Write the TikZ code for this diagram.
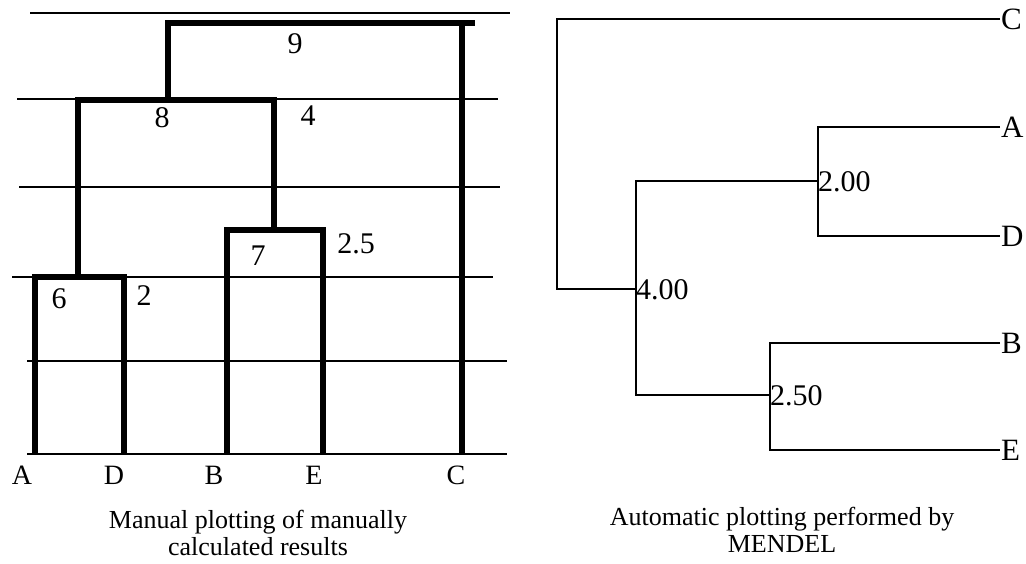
\documentclass[tikz,border=0pt]{standalone}
\usepackage{fontspec}
\setmainfont{Liberation Serif}
\usetikzlibrary{positioning}

\begin{document}
\begin{tikzpicture}[x=1pt,y=-1pt,line join=miter,
  gridline/.style={line width=1.1pt},
  heavy/.style={line width=6pt},
  slim/.style={line width=1.6pt},
  num/.style={inner sep=0pt,font=\fontsize{30}{30}\selectfont},
  leafname/.style={inner sep=0pt,font=\fontsize{28}{28}\selectfont},
  tipname/.style={anchor=west,inner sep=1pt,text height=20pt,text depth=0pt,font=\fontsize{31}{31}\selectfont},
  dist/.style={anchor=west,inner sep=0pt,text height=20pt,text depth=0pt,font=\fontsize{30}{30}\selectfont},
  caption/.style={align=center,inner sep=0pt,font=\fontsize{26}{27}\selectfont}]
  \useasboundingbox (0,0) rectangle (1026,563);
  % manual plot
  \foreach \y/\a/\b in {13/30/510,99/17/498,187/19/500,277/12/493,361/27/507,454/27/507}
    \draw[gridline] (\a,\y)--(\b,\y);
  \coordinate (lA) at (35,454);
  \coordinate (lD) at (124,454);
  \coordinate (lB) at (227,454);
  \coordinate (lE) at (323,454);
  \coordinate (lC) at (462,454);
  \coordinate (j6) at (78,277);
  \coordinate (j7) at (274,230);
  \coordinate (j8) at (168,100);
  \coordinate (j9) at (300,23);
  \draw[heavy] (lA) |- (j6) -| (lD);
  \draw[heavy] (lB) |- (j7) -| (lE);
  \draw[heavy] (j6) |- (j8) -| (j7);
  \draw[heavy] (j8) |- (j9) -| (lC);
  \draw[heavy] (lC |- j9) -- ++(13,0);
  \node[num] (n9) at (295,44) {9};
  \node[num] (n8) at (162,118) {8};
  \node[num] (n4) at (308,116) {4};
  \node[num] (n7) at (258,256) {7};
  \node[num] (n25) at (356,244) {2.5};
  \node[num] (n6) at (59,299) {6};
  \node[num] (n2) at (144,296) {2};
  \node[leafname] (tA) at (22,475) {A};
  \node[leafname] (tD) at (114,475) {D};
  \node[leafname] (tB) at (214,475) {B};
  \node[leafname] (tE) at (314,475) {E};
  \node[leafname] (tC) at (456,475) {C};
  \node[caption] (capL) at (258,533) {Manual plotting of manually\\calculated results};
  % MENDEL plot
  \node[tipname] (rC) at (1000,19) {C};
  \node[tipname] (rA) at (1000,127) {A};
  \node[tipname] (rD) at (1000,236) {D};
  \node[tipname] (rB) at (1000,343) {B};
  \node[tipname] (rE) at (1000,450) {E};
  \node[dist] (v2) at (818,181) {2.00};
  \node[dist] (v4) at (636,289) {4.00};
  \node[dist] (v25) at (770,395) {2.50};
  \coordinate (root) at (557,150);
  \draw[slim] (rA.west) -| (v2.west) |- (rD.west);
  \draw[slim] (rB.west) -| (v25.west) |- (rE.west);
  \draw[slim] (v2.west) -| (v4.west) |- (v25.west);
  \draw[slim] (rC.west) -| (root) |- (v4.west);
  \node[caption] (capR) at (782,530) {Automatic plotting performed by\\MENDEL};
\end{tikzpicture}
\end{document}
